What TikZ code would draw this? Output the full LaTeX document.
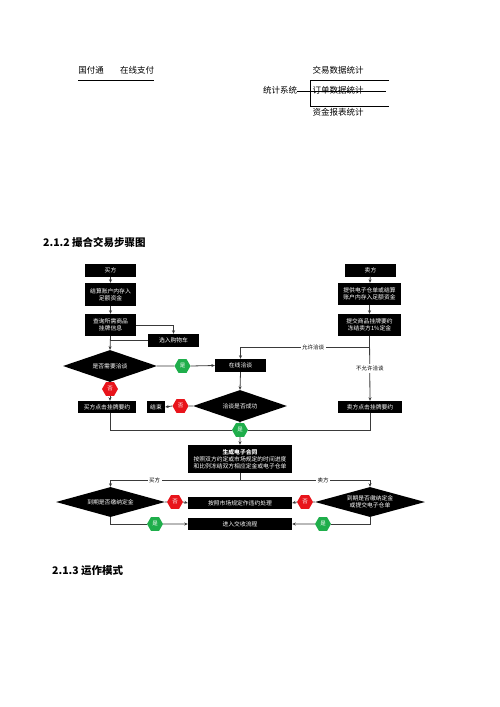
\documentclass[tikz,border=0pt]{standalone}
\usepackage{fontspec}
\setmainfont{Noto Sans CJK SC}
\usepackage{tikz}
\usetikzlibrary{calc, positioning, shapes, arrows.meta}
\definecolor{flowgray}{HTML}{3A3A3A}
\definecolor{yesgreen}{HTML}{1FAE4B}
\definecolor{nored}{HTML}{E8141B}
\def\boxfont{\fontsize{5.8}{7}\selectfont}
\tikzstyle{flow}=[draw=flowgray, line width=0.8pt]
\tikzstyle{flow arrow}=[flow, ->]
\tikzstyle{step box}=[rectangle, fill=black, text=white, minimum height=13pt, inner sep=1pt, align=center, font=\boxfont]
\tikzstyle{left box}=[step box, minimum width=51pt]
\tikzstyle{right box}=[step box, minimum width=63pt]
\tikzstyle{wide box}=[step box, minimum width=104pt]
\tikzstyle{decision}=[diamond, aspect=3, fill=black, text=white, inner sep=0pt, align=center, font=\boxfont, minimum width=94pt, minimum height=32pt]
\tikzstyle{tag}=[regular polygon, regular polygon sides=6, minimum size=16pt, inner sep=0pt, text=white, font=\fontsize{5.5}{6}\selectfont]
\tikzstyle{yes tag}=[tag, fill=yesgreen]
\tikzstyle{no tag}=[tag, fill=nored]
\tikzstyle{edge label}=[fill=white, inner sep=1.5pt, font=\fontsize{5.5}{6}\selectfont]
\tikzstyle{plain text}=[inner sep=0pt, font=\fontsize{8.5}{10}\selectfont]
\tikzstyle{heading}=[inner sep=0pt, anchor=west, font=\fontsize{10.5}{12}\selectfont\bfseries]

\begin{document}
\begin{tikzpicture}[x=1pt, y=-1pt, >={Stealth[length=3.5pt,width=3pt]}]
	\path[use as bounding box, fill=white] (0,0) rectangle (500,707);

	% Text lines at the top of the page
	\node[plain text] (gft) at (91,70) {国付通};
	\node[plain text] (online) at (137,70) {在线支付};
	\draw[line width=0.6pt] (gft.west |- 0,80) -- (online.east |- 0,80);
	\node[plain text] (trade stat) at (338,70) {交易数据统计};
	\node[plain text] (stats) at (280,90) {统计系统};
	\node[plain text] (order stat) at (338,90) {订单数据统计};
	\node[plain text] (fund stat) at (338,112) {资金报表统计};
	\draw[line width=0.6pt] (389,80) -- (310,80) -- (310,106) -- (389,106);
	\draw[line width=0.6pt] (stats.east) ++(0,1.5) -- ++(89,0);

	% Headings
	\node[heading] (h212) at (43,242) {2.1.2 撮合交易步骤图};
	\node[heading] (h213) at (52,571) {2.1.3 运作模式};

	% Buyer column
	\node[left box] (buyer) at (110.5,270.5) {买方};
	\node[left box, minimum height=23pt] (buyer fund) at (110.5,294.5) {结算账户内存入\\足额资金};
	\node[left box, minimum height=22pt] (query) at (110.5,325) {查询所需商品\\挂牌信息};
	\node[left box] (cart) at (173.5,340.5) {选入购物车};
	\node[decision] (need talk) at (110,366) {是否需要洽谈};
	\node[step box, minimum width=58pt, minimum height=12pt] (buyer offer) at (107,407) {买方点击挂牌要约};

	% Seller column
	\node[left box] (seller) at (370.5,270) {卖方};
	\node[right box, minimum height=22pt] (seller fund) at (369.5,294) {提供电子仓单或结算\\账户内存入足额资金};
	\node[right box, minimum height=22pt] (seller offer) at (369.5,325) {提交商品挂牌要约\\冻结卖方1\%定金};
	\node[step box, minimum width=64pt, minimum height=12pt] (seller click) at (370,407) {卖方点击挂牌要约};

	% Middle column
	\node[left box] (talk) at (240.5,365.5) {在线洽谈};
	\node[decision] (talk ok) at (240,406) {洽谈是否成功};
	\node[step box, minimum width=18pt, minimum height=12pt] (end) at (156,407) {结束};
	\node[wide box, minimum height=28pt] (contract) at (240,459) {{\bfseries 生成电子合同}\\按照双方约定或市场规定的时间进度\\和比例冻结双方相应定金或电子仓单};
	\node[decision, minimum width=109pt, minimum height=30pt] (pay) at (110.5,502) {到期是否缴纳定金};
	\node[decision, minimum width=110pt, minimum height=30pt] (deliver) at (370,502) {到期是否缴纳定金\\或提交电子仓单};
	\node[wide box, minimum height=12pt] (breach) at (240,503) {按照市场规定作违约处理};
	\node[wide box, minimum height=12pt] (settle) at (240,524) {进入交收流程};

	% Yes / no tags
	\node[yes tag] (yes1) at (182.5,366) {是};
	\node[no tag] (no1) at (110,389) {否};
	\node[no tag] (no2) at (180.5,406) {否};
	\node[yes tag] (yes2) at (240,430) {是};
	\node[no tag] (no3) at (175,502) {否};
	\node[yes tag] (yes3) at (155,524) {是};
	\node[no tag] (no4) at (305,502) {否};
	\node[yes tag] (yes4) at (323,524) {是};

	\coordinate (allow) at (370,347);
	\coordinate (fork) at (240,480);

	% Connect the buyer side
	\draw[flow arrow] (buyer) -- (buyer fund);
	\draw[flow arrow] (buyer fund) -- (query);
	\draw[flow arrow] (query.east) -| (cart.north);
	\draw[flow] (cart.west) -- (cart.west -| need talk.north);
	\draw[flow arrow] (query.south) -- (need talk.north);
	\draw[flow] (need talk.east) -- (yes1.west);
	\draw[flow arrow] (yes1.east) -- (talk.west);
	\draw[flow] (need talk.south) -- (no1.north);
	\draw[flow arrow] (no1.south) -- (no1.south |- buyer offer.north);

	% Connect the seller side
	\draw[flow arrow] (seller) -- (seller fund);
	\draw[flow arrow] (seller fund) -- (seller offer);
	\draw[flow arrow] (seller offer.south) -- node[edge label] {不允许洽谈} (seller click.north);
	\draw[flow arrow] (allow) -| node[edge label, pos=0.22] {允许洽谈} (talk.north);

	% Negotiation
	\draw[flow arrow] (talk.south) -- (talk ok.north);
	\draw[flow] (talk ok.west) -- (no2.east);
	\draw[flow arrow] (no2.west) -- (end.east);
	\draw[flow] (talk ok.south) -- (yes2.north);
	\draw[flow arrow] (yes2.south) -- (contract.north);
	\draw[flow] (buyer offer.south -| need talk.south) |- (yes2.west);
	\draw[flow] (yes2.east) -| (seller click.south);

	% Contract and settlement
	\draw[flow] (contract.south) -- (fork);
	\draw[flow arrow] (fork) -| node[edge label, pos=0.33] {买方} (pay.north);
	\draw[flow arrow] (fork) -| node[edge label, pos=0.32] {卖方} (deliver.north);
	\draw[flow] (pay.east) -- (no3.west);
	\draw[flow arrow] (no3.east) -- (breach.west);
	\draw[flow] (pay.south) |- (yes3.west);
	\draw[flow arrow] (yes3.east) -- (settle.west);
	\draw[flow] (deliver.west) -- (no4.east);
	\draw[flow arrow] (no4.west) -- (breach.east);
	\draw[flow] (deliver.south) |- (yes4.east);
	\draw[flow arrow] (yes4.west) -- (settle.east);
\end{tikzpicture}
\end{document}
